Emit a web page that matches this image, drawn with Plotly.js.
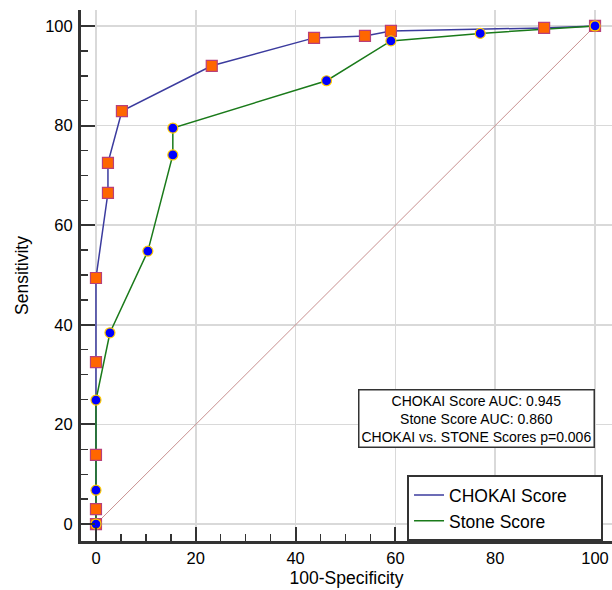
<!DOCTYPE html>
<html>
<head>
<meta charset="utf-8">
<script src="https://cdn.plot.ly/plotly-3.0.1.min.js"></script>
<style>html,body{margin:0;padding:0;background:#fff;}#chart{width:612px;height:590px;}</style>
</head>
<body>
<div id="chart"></div>
<script>
// CHOKAI Score ROC points (100-Specificity, Sensitivity)
var chokaiX = [0, 0, 0, 0, 0, 2.4, 2.4, 5.2, 23.2, 43.7, 53.9, 59.1, 89.8, 100];
var chokaiY = [0, 3.0, 13.9, 32.5, 49.4, 66.5, 72.5, 82.9, 92.0, 97.6, 98.0, 99.0, 99.6, 100];
// Stone Score ROC points
var stoneX = [0, 0, 0, 2.8, 10.4, 15.4, 15.4, 46.2, 59.1, 77.0, 100];
var stoneY = [0, 6.8, 24.9, 38.4, 54.8, 74.1, 79.5, 89.0, 97.0, 98.5, 100];
// Reference diagonal
var diagX = [0, 100];
var diagY = [0, 100];
var seriesNames = ["CHOKAI Score", "Stone Score"];
var annText = "CHOKAI Score AUC: 0.945<br>Stone Score AUC: 0.860<br>CHOKAI vs. STONE Scores p=0.006";
var tickVals = [0, 20, 40, 60, 80, 100];

var font = "Liberation Sans, Arial, sans-serif";
var pad = "\u00a0\u00a0\u00a0\u00a0\u00a0\u00a0";

var traces = [
  {x: diagX, y: diagY, mode: "lines", line: {color: "#c89090", width: 1}, showlegend: false, hoverinfo: "skip"},
  {x: chokaiX, y: chokaiY, mode: "lines", name: seriesNames[0] + pad, line: {color: "#3b3b9e", width: 1.5}},
  {x: stoneX, y: stoneY, mode: "lines", name: seriesNames[1] + pad, line: {color: "#1a7a1a", width: 1.5}},
  {x: chokaiX, y: chokaiY, mode: "markers", showlegend: false,
   marker: {symbol: "square", size: 11, color: "#ff6600", line: {color: "#b8407a", width: 1.2}}},
  {x: stoneX, y: stoneY, mode: "markers", showlegend: false,
   marker: {symbol: "circle", size: 10, color: "#0000ff", line: {color: "#ffcc00", width: 1.2}}}
];

var axisCommon = {
  showline: true, linewidth: 3, linecolor: "#333",
  showgrid: true, gridcolor: "#d9d9d9", gridwidth: 1.5,
  zeroline: false, ticks: "inside", ticklen: 14, tickwidth: 2, tickcolor: "#333",
  tickvals: tickVals, tickfont: {family: font, size: 16.5, color: "#000"},
  minor: {dtick: 5, ticks: "inside", ticklen: 7, tickwidth: 1.5, tickcolor: "#333", showgrid: false},
  mirror: false
};

var layout = {
  width: 612, height: 590,
  margin: {l: 81, r: 0, t: 10, b: 49},
  paper_bgcolor: "#fff", plot_bgcolor: "#fff",
  font: {family: font, color: "#000"},
  xaxis: Object.assign({}, axisCommon, {
    range: [-3, 103.4],
    ticklabelstandoff: 0,
    title: {text: "100-Specificity", font: {family: font, size: 17.5, color: "#000"}, standoff: 6}
  }),
  yaxis: Object.assign({}, axisCommon, {
    range: [-3.4, 103.2],
    ticklabelstandoff: 2,
    title: {text: "Sensitivity", font: {family: font, size: 17.5, color: "#000"}, standoff: 13}
  }),
  showlegend: true,
  legend: {
    x: 0.614, y: 0.124, xanchor: "left", yanchor: "top",
    bgcolor: "#fff", bordercolor: "#333", borderwidth: 2,
    font: {family: font, size: 17.5, color: "#000"},
    tracegroupgap: 0, itemwidth: 30
  },
  annotations: [{
    x: 76.2, y: 21.1, xref: "x", yref: "y", text: annText, showarrow: false,
    font: {family: font, size: 14, color: "#000"},
    bordercolor: "#333", borderwidth: 1.5, borderpad: 2, bgcolor: "#fff", align: "center"
  }]
};

Plotly.newPlot("chart", traces, layout, {displayModeBar: false, staticPlot: true});
</script>
</body>
</html>
